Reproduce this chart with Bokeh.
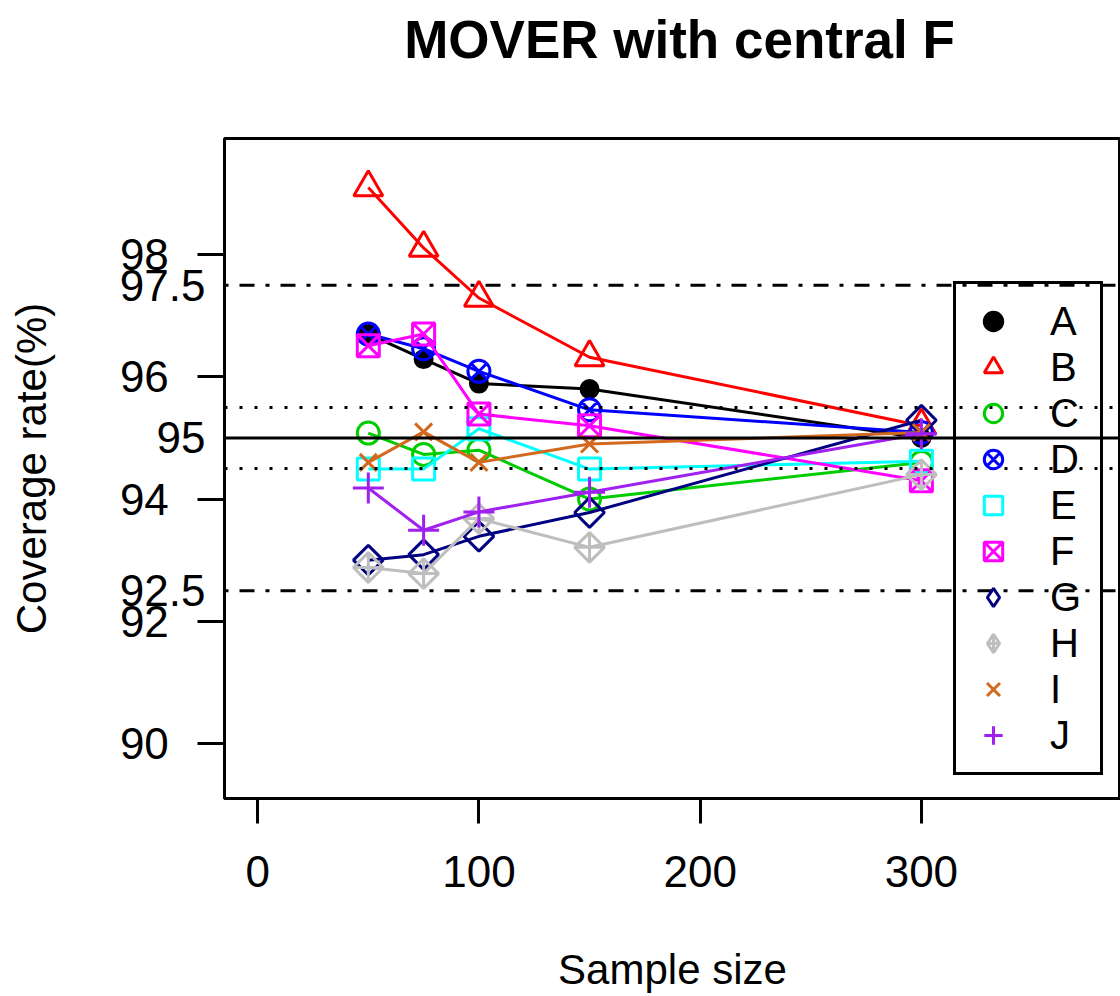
from bokeh.plotting import figure
from bokeh.models import (Range1d, FixedTicker, Span, Label, Legend, LegendItem,
                          ColumnDataSource, LinearAxis)
from bokeh.embed import file_html
from bokeh.resources import INLINE
import numpy as np

# ---------------- data ----------------
sample_sizes = [50, 75, 100, 150, 300]
series_names = ["A", "B", "C", "D", "E", "F", "G", "H", "I", "J"]
A = [96.70, 96.29, 95.89, 95.80, 95.00]
B = [99.10, 98.11, 97.29, 96.32, 95.20]
C = [95.08, 94.73, 94.80, 94.00, 94.60]
D = [96.70, 96.46, 96.09, 95.46, 95.09]
E = [94.49, 94.49, 95.15, 94.49, 94.62]
F = [96.51, 96.70, 95.39, 95.20, 94.30]
G = [93.00, 93.09, 93.39, 93.78, 95.29]
H = [92.88, 92.78, 93.68, 93.21, 94.40]
I = [94.60, 95.10, 94.60, 94.90, 95.09]
J = [94.18, 93.49, 93.79, 94.11, 95.07]
series_values = [A, B, C, D, E, F, G, H, I, J]

x_ticks = [0, 100, 200, 300]
y_ticks = [90, 92, 94, 96, 98]
extra_y_labels = [97.5, 95, 92.5]
solid_ref = [95]
dotted_refs = [94.5, 95.5]
dotdash_refs = [92.5, 97.5]
title_text = "MOVER with central F"

colors = ["#000000", "#FF0000", "#00CD00", "#0000FF", "#00FFFF",
          "#FF00FF", "#000080", "#BEBEBE", "#D2691E", "#A020F0"]
markers = ["circle", "triangle", "circle", "circle_x", "square",
           "square_x", "square", "square_x", "x", "cross"]
sizes = [17, 29, 22, 22, 22, 22, 21, 21, 24, 31]
filled = [True] + [False] * 9
angles = [0, 0, 0, 0, 0, 0, np.pi / 4, np.pi / 4, 0, 0]
legend_markers = {6: "diamond", 7: "diamond_cross"}

FONT = "Liberation Sans"
X0, X1 = -15, 390
Y0, Y1 = 89.1, 99.9
FRAME_LEFT, FRAME_TOP = 224, 138
FRAME_W, FRAME_H = 1120 - 224, 798 - 138

p = figure(width=1120, height=996, output_backend="svg", toolbar_location=None,
           x_range=Range1d(X0, X1), y_range=Range1d(Y0, Y1),
           min_border_left=FRAME_LEFT, min_border_right=0, min_border_top=FRAME_TOP,
           min_border_bottom=198)
p.background_fill_color = "white"
p.border_fill_color = "white"
p.xgrid.visible = False
p.ygrid.visible = False
p.outline_line_color = "black"
p.outline_line_width = 3
p.outline_line_alpha = 1

# ---- title, placed in the top margin ----
px_x = FRAME_W / (X1 - X0)
px_y = FRAME_H / (Y1 - Y0)
p.add_layout(Label(x=X0 + (679 - FRAME_LEFT) / px_x, y=Y1 + (FRAME_TOP - 39) / px_y,
                   x_units="data", y_units="data", text=title_text, text_font=FONT,
                   text_font_size="53px", text_font_style="bold", text_color="black",
                   text_align="center", text_baseline="middle"), "above")

# ---- x axis ----
xa = p.xaxis[0]
xa.ticker = FixedTicker(ticks=x_ticks)
xa.minor_tick_line_color = None
xa.major_tick_in = 0
xa.major_tick_out = 25
xa.major_tick_line_width = 3
xa.major_tick_line_color = "black"
xa.axis_line_width = 3
xa.axis_line_color = "black"
xa.major_label_text_font = FONT
xa.major_label_text_font_size = "44px"
xa.major_label_text_color = "black"
xa.major_label_standoff = 32
xa.axis_label = "Sample size"
xa.axis_label_text_font = FONT
xa.axis_label_text_font_size = "42px"
xa.axis_label_text_font_style = "normal"
xa.axis_label_text_color = "black"
xa.axis_label_standoff = 56

# ---- y axis: tick marks only ----
ya = p.yaxis[0]
ya.ticker = FixedTicker(ticks=y_ticks)
ya.minor_tick_line_color = None
ya.major_tick_in = 0
ya.major_tick_out = 27
ya.major_tick_line_width = 3
ya.major_tick_line_color = "black"
ya.axis_line_width = 3
ya.axis_line_color = "black"
ya.major_label_overrides = {v: "" for v in y_ticks}
ya.major_label_standoff = 0

# ---- y axis: labels (all values) and title ----
pad = "\u00a0" * 3
label_overrides = {v: ("%g" % v) + pad for v in y_ticks}
label_overrides.update({v: "%g" % v for v in extra_y_labels})
yl = LinearAxis(ticker=FixedTicker(ticks=sorted(y_ticks + extra_y_labels)),
                major_label_overrides=label_overrides,
                major_tick_in=0, major_tick_out=0, major_tick_line_color=None,
                minor_tick_line_color=None, axis_line_color=None,
                major_label_standoff=-8, major_label_text_font=FONT,
                major_label_text_font_size="44px", major_label_text_color="black",
                major_label_orientation="horizontal",
                axis_label="Coverage rate(%)", axis_label_text_font=FONT,
                axis_label_text_font_size="42px", axis_label_text_font_style="normal",
                axis_label_text_color="black", axis_label_standoff=62)
p.add_layout(yl, "left")

# reference lines
for v in solid_ref:
    p.add_layout(Span(location=v, dimension="width", line_color="black", line_width=3))
for v in dotted_refs:
    p.add_layout(Span(location=v, dimension="width", line_color="black", line_width=3,
                      line_dash="3 12"))
for v in dotdash_refs:
    p.add_layout(Span(location=v, dimension="width", line_color="black", line_width=3,
                      line_dash="4 11 15 11"))

items = []
for i, (name, vals) in enumerate(zip(series_names, series_values)):
    src = ColumnDataSource(dict(x=sample_sizes, y=vals))
    p.line("x", "y", source=src, line_color=colors[i], line_width=3)
    r = p.scatter("x", "y", source=src, marker=markers[i], size=sizes[i], angle=angles[i],
                  line_color=colors[i], line_width=3,
                  fill_color=colors[i] if filled[i] else None)
    if i in legend_markers:
        lr = p.scatter("x", "y", source=src, marker=legend_markers[i], size=sizes[i],
                       line_color=colors[i], line_width=3, fill_color=None)
        lr.visible = False
        items.append(LegendItem(label=name, renderers=[lr]))
    else:
        items.append(LegendItem(label=name, renderers=[r]))

legend = Legend(items=items, location=(729, 23), padding=14, spacing=0,
                glyph_width=46, glyph_height=46, label_standoff=34, label_width=36,
                label_height=46, label_text_font=FONT, label_text_font_size="40px",
                label_text_color="black", border_line_color="black", border_line_width=3,
                border_line_alpha=1,
                background_fill_alpha=0, margin=0, inactive_fill_alpha=0)
p.add_layout(legend)

open("out.html", "w").write(file_html(p, INLINE))
